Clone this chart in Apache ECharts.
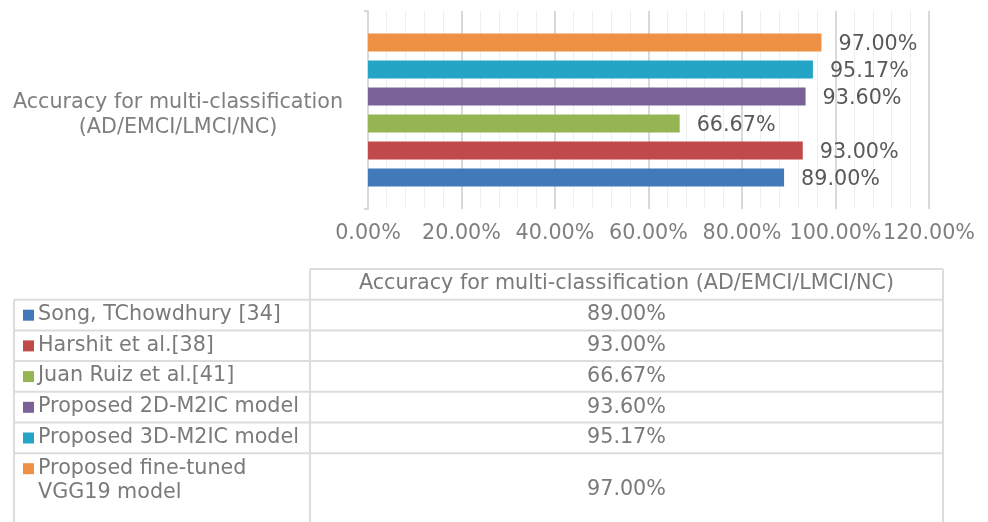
<!DOCTYPE html>
<html>
<head>
<meta charset="utf-8">
<script src="https://cdn.jsdelivr.net/npm/echarts@6/dist/echarts.min.js"></script>
<style>
html,body{margin:0;padding:0;background:#fff;}
#chart{width:988px;height:522px;}
</style>
</head>
<body>
<div id="chart"></div>
<script>
const categories = ['Accuracy for multi-classification (AD/EMCI/LMCI/NC)'];
const seriesNames = ['Song, TChowdhury [34]', 'Harshit et al.[38]', 'Juan Ruiz et al.[41]', 'Proposed 2D-M2IC model', 'Proposed 3D-M2IC model', 'Proposed fine-tuned VGG19 model'];
const values = [89.00, 93.00, 66.67, 93.60, 95.17, 97.00];
const colors = ['#427AB9', '#C0494A', '#95B552', '#7A6298', '#24A5C6', '#EE9144'];
const xMin = 0, xMax = 120, xInterval = 20;

const FONT = 'DejaVu Sans';
const FS = 20.7;
const fmt = v => v.toFixed(2) + '%';

const chart = echarts.init(document.getElementById('chart'));

// first series drawn at the bottom of the group (as in the reference)
const series = seriesNames.map((name, i) => ({
  name: name,
  type: 'bar',
  data: [values[i]],
  itemStyle: { color: colors[i] },
  barGap: '50%',
  barCategoryGap: '22.7%',
  label: {
    show: true, position: 'right', distance: 17,
    formatter: p => fmt(p.value),
    color: '#595959', fontSize: FS, fontFamily: FONT, offset: [0, 2]
  }
})).reverse();

// data table (layout constants)
const T = { left: 14, div: 310, right: 943, top: 269, rowH: 30.7, lastH: 72 };
const border = '#dcdcdc', bw = 2, txt = '#7a7a7a';
const g = [];
const rowsTop = T.top + T.rowH;
const bottom = rowsTop + T.rowH * (seriesNames.length - 1) + T.lastH;
g.push({ type: 'line', shape: { x1: T.div, y1: T.top, x2: T.right, y2: T.top }, style: { stroke: border, lineWidth: bw } });
g.push({ type: 'line', shape: { x1: T.div, y1: T.top, x2: T.div, y2: bottom }, style: { stroke: border, lineWidth: bw } });
g.push({ type: 'line', shape: { x1: T.right, y1: T.top, x2: T.right, y2: bottom }, style: { stroke: border, lineWidth: bw } });
g.push({ type: 'line', shape: { x1: T.left, y1: rowsTop, x2: T.left, y2: bottom }, style: { stroke: border, lineWidth: bw } });
g.push({ type: 'text', x: (T.div + T.right) / 2, y: T.top + T.rowH / 2 - 1,
  style: { text: categories[0], fill: txt, fontSize: FS, fontFamily: FONT, align: 'center', verticalAlign: 'middle' } });
seriesNames.forEach((name, i) => {
  const y0 = rowsTop + T.rowH * i;
  const h = i === seriesNames.length - 1 ? T.lastH : T.rowH;
  g.push({ type: 'line', shape: { x1: T.left, y1: y0, x2: T.right, y2: y0 }, style: { stroke: border, lineWidth: bw } });
  g.push({ type: 'rect', shape: { x: 23, y: y0 + 10, width: 11, height: 11 }, style: { fill: colors[i] } });
  g.push({ type: 'text', x: 38, y: y0 + 3,
    style: { text: name, width: 268, overflow: 'break', lineHeight: 24, fill: txt, fontSize: FS, fontFamily: FONT, align: 'left', verticalAlign: 'top' } });
  g.push({ type: 'text', x: (T.div + T.right) / 2, y: y0 + h / 2,
    style: { text: fmt(values[i]), fill: txt, fontSize: FS, fontFamily: FONT, align: 'center', verticalAlign: 'middle' } });
});

chart.setOption({
  animation: false,
  backgroundColor: '#fff',
  grid: { left: 368, right: 59, top: 11, bottom: 313, containLabel: false },
  xAxis: {
    type: 'value', min: xMin, max: xMax, interval: xInterval,
    axisLine: { show: false }, axisTick: { show: false },
    axisLabel: { formatter: v => fmt(v), color: '#7f7f7f', fontSize: FS, fontFamily: FONT, margin: 14 },
    splitLine: { show: true, lineStyle: { color: '#d9d9d9', width: 2 } },
    minorTick: { show: false, splitNumber: 5 },
    minorSplitLine: { show: true, lineStyle: { color: '#efefef', width: 1 } }
  },
  yAxis: {
    type: 'category', data: categories,
    axisLine: { show: true, lineStyle: { color: '#d9d9d9', width: 2 } },
    axisTick: { show: true, length: 4, lineStyle: { color: '#d9d9d9', width: 2 } },
    axisLabel: {
      formatter: s => '{e| }\n' + s.split(' (').map((t, k) => '{a|' + (k ? '(' : '') + t + '}').join('\n'),
      align: 'center', margin: 190,
      color: '#7f7f7f', fontSize: FS, fontFamily: FONT,
      rich: {
        e: { fontSize: 4, lineHeight: 11 },
        a: { fontSize: FS, lineHeight: 25, color: '#7f7f7f', fontFamily: FONT, align: 'center' }
      }
    },
    splitLine: { show: false }
  },
  series: series,
  graphic: g
});
</script>
</body>
</html>
